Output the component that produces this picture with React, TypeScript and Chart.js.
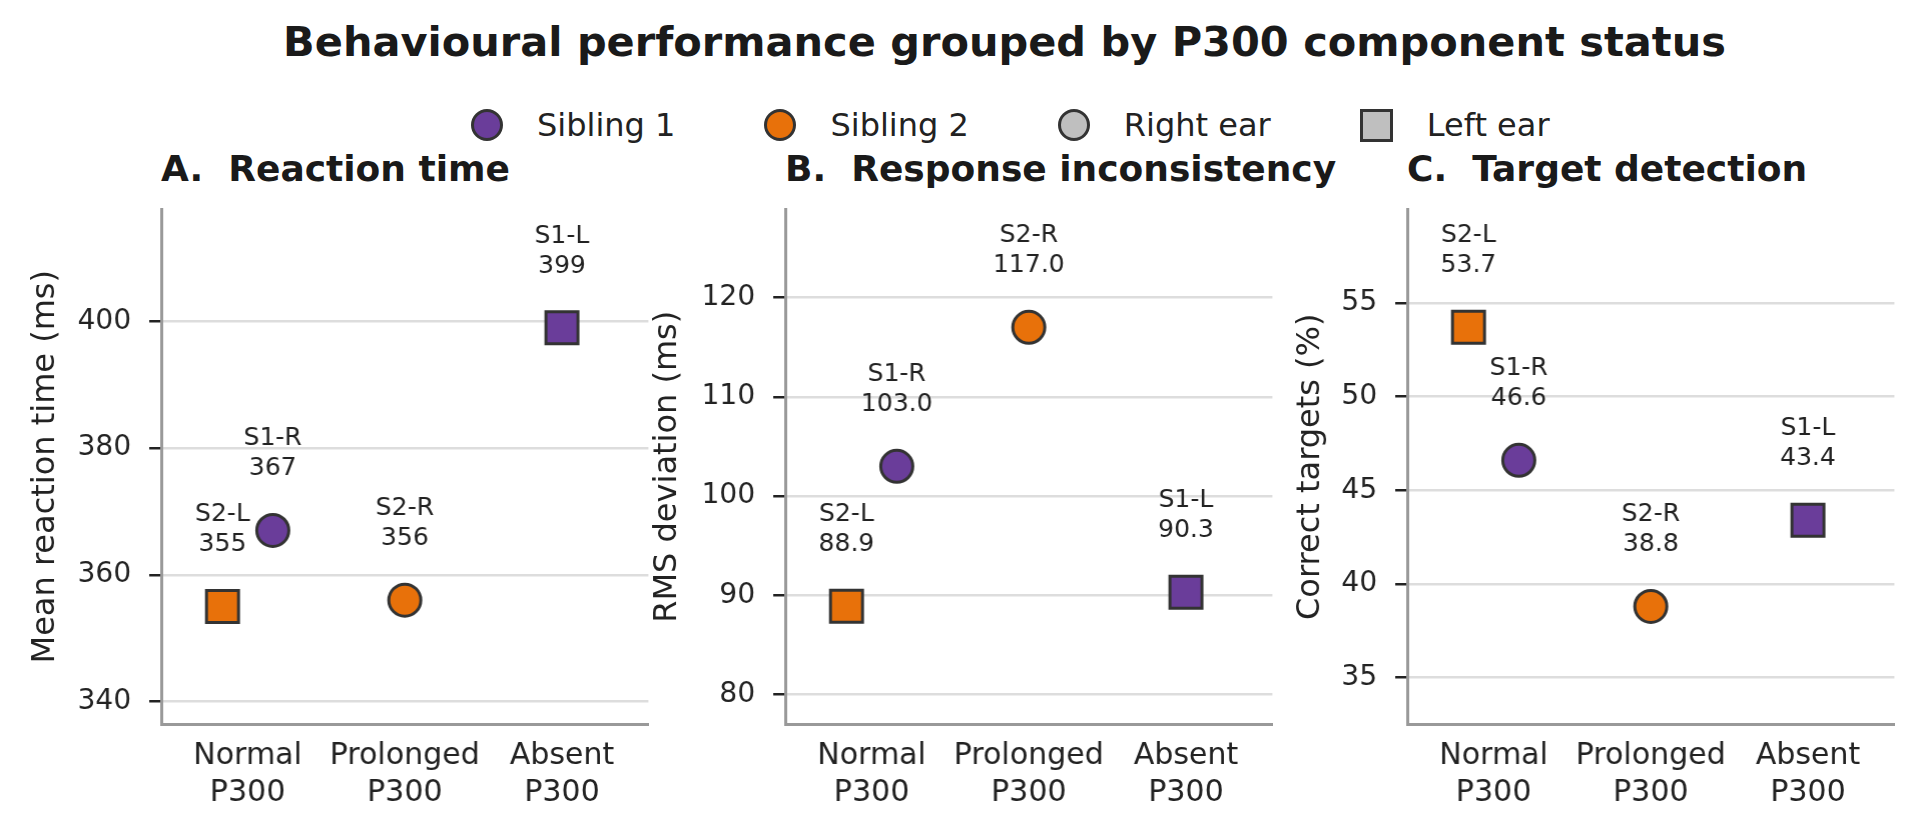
import React, { useEffect, useRef } from 'react';
import { Chart, registerables } from 'chart.js';

Chart.register(...registerables);

const FONT = '"DejaVu Sans", "Liberation Sans", sans-serif';
const INK = '#222222';
const PURPLE = '#6a3d9a';
const ORANGE = '#e8710a';
const NEUTRAL = '#bfbfbf';
const EDGE = '#333333';

// categories on the x axis
const categories = [['Normal', 'P300'], ['Prolonged', 'P300'], ['Absent', 'P300']];

// one entry per measured ear
const pointIds = ['S1-R', 'S2-L', 'S2-R', 'S1-L'];
const pointCategory = [0, 0, 1, 2];
const pointDodge = [0.16, -0.16, 0, 0];
const pointSibling = [1, 2, 2, 1];
const pointEar = ['R', 'L', 'R', 'L'];

// values per panel
const reactionTime = [367, 355, 356, 399];
const rmsDeviation = [103.0, 88.9, 117.0, 90.3];
const correctTargets = [46.6, 53.7, 38.8, 43.4];

const legendLabels = ['Sibling 1', 'Sibling 2', 'Right ear', 'Left ear'];

type Panel = {
  title: string;
  yLabel: string;
  values: number[];
  decimals: number;
  min: number;
  max: number;
  step: number;
  axisLeft: number;
  titlePad: number;
};

const panels: Panel[] = [
  { title: 'A.  Reaction time', yLabel: 'Mean reaction time (ms)', values: reactionTime, decimals: 0, min: 336.45, max: 417.65, step: 20, axisLeft: 161, titlePad: 5.3 },
  { title: 'B.  Response inconsistency', yLabel: 'RMS deviation (ms)', values: rmsDeviation, decimals: 1, min: 77.03, max: 128.87, step: 10, axisLeft: 785, titlePad: 3.7 },
  { title: 'C.  Target detection', yLabel: 'Correct targets (%)', values: correctTargets, decimals: 1, min: 32.53, max: 59.98, step: 5, axisLeft: 1407, titlePad: 24.1 },
];

const Y_BOX = 140;
const AXIS_W = 487;
const CANVAS_TOP = 150;
// chart.js keeps ~20.6px back on the right of the plot area here
const CANVAS_W = Y_BOX + AXIS_W + 5 + 20.6;
const CANVAS_H = 672;

const labelsPlugin = {
  id: 'pointLabels',
  afterDatasetsDraw(chart: any, _args: any, opts: any) {
    const ctx = chart.ctx;
    const meta = chart.getDatasetMeta(0);
    ctx.save();
    ctx.fillStyle = INK;
    ctx.textAlign = 'center';
    ctx.textBaseline = 'middle';
    ctx.font = `25px ${FONT}`;
    meta.data.forEach((el: any, i: number) => {
      ctx.fillText(pointIds[i], el.x, el.y - 91.5);
      ctx.fillText(opts.values[i].toFixed(opts.decimals), el.x, el.y - 61.5);
    });
    ctx.restore();
  },
};

const PanelChart: React.FC<{ panel: Panel }> = ({ panel }) => {
  const canvasRef = useRef<HTMLCanvasElement>(null);

  useEffect(() => {
    if (!canvasRef.current) return;
    const chart = new Chart(canvasRef.current, {
      type: 'scatter',
      data: {
        datasets: [
          {
            data: panel.values.map((v, i) => ({ x: pointCategory[i] + pointDodge[i], y: v })),
            pointStyle: pointEar.map((e) => (e === 'R' ? 'circle' : 'rect')),
            pointRadius: pointEar.map((e) => (e === 'R' ? 16 : 22.6)),
            pointHoverRadius: pointEar.map((e) => (e === 'R' ? 16 : 22.6)),
            pointBackgroundColor: pointSibling.map((s) => (s === 1 ? PURPLE : ORANGE)),
            pointBorderColor: EDGE,
            pointBorderWidth: 3,
            pointHoverBorderWidth: 3,
          } as any,
        ],
      },
      options: {
        animation: false,
        responsive: false,
        maintainAspectRatio: false,
        events: [],
        layout: { padding: { top: 209.5 - CANVAS_TOP, right: 5, left: 0, bottom: 0 } },
        plugins: {
          legend: { display: false },
          tooltip: { enabled: false },
          pointLabels: { values: panel.values, decimals: panel.decimals },
        } as any,
        scales: {
          x: {
            type: 'linear',
            min: -0.55,
            max: 2.55,
            ticks: {
              stepSize: 1,
              includeBounds: false,
              autoSkip: false,
              maxRotation: 0,
              padding: 13,
              color: INK,
              font: { family: FONT, size: 30, lineHeight: 1.25 },
              callback: (v: any) => categories[v as number] ?? '',
            },
            grid: { display: false, drawTicks: false },
            border: { display: true, color: '#999999', width: 3 },
            afterFit: (s: any) => {
              s.height = 98;
            },
          },
          y: {
            min: panel.min,
            max: panel.max,
            ticks: {
              stepSize: panel.step,
              includeBounds: false,
              padding: 18,
              color: INK,
              font: { family: FONT, size: 28 },
            },
            grid: { color: '#dddddd', lineWidth: 2.5, tickColor: INK, tickWidth: 2.5, tickLength: 12 },
            border: { display: true, color: '#999999', width: 3 },
            title: {
              display: true,
              text: panel.yLabel,
              color: INK,
              font: { family: FONT, size: 32, lineHeight: 1.2 },
              padding: { top: panel.titlePad, bottom: 0 },
            },
            afterFit: (s: any) => {
              s.width = Y_BOX;
            },
          },
        },
      },
      plugins: [labelsPlugin],
    });
    return () => chart.destroy();
  }, [panel]);

  return (
    <canvas
      ref={canvasRef}
      width={CANVAS_W}
      height={CANVAS_H}
      style={{ position: 'absolute', left: panel.axisLeft - Y_BOX, top: CANVAS_TOP, width: CANVAS_W, height: CANVAS_H }}
    />
  );
};

const LegendMarker: React.FC<{ index: number }> = ({ index }) => {
  const fill = index === 0 ? PURPLE : index === 1 ? ORANGE : NEUTRAL;
  const square = index === 3;
  const size = square ? 33 : 32;
  return (
    <div
      style={{
        width: size,
        height: size,
        boxSizing: 'border-box',
        border: `3px solid ${EDGE}`,
        borderRadius: square ? 0 : '50%',
        background: fill,
        flex: 'none',
      }}
    />
  );
};

const App: React.FC = () => {
  return (
    <div
      style={{
        position: 'fixed',
        left: 0,
        top: 0,
        width: 1919,
        height: 822,
        background: '#ffffff',
        overflow: 'hidden',
        fontFamily: FONT,
        color: INK,
      }}
    >
      <div
        style={{
          position: 'absolute',
          left: 1004.5,
          top: 20.5,
          transform: 'translateX(-50%)',
          whiteSpace: 'nowrap',
          fontWeight: 'bold',
          fontSize: 41.5,
          lineHeight: '41.5px',
          color: '#1a1a1a',
        }}
      >
        Behavioural performance grouped by P300 component status
      </div>
      <div
        style={{
          position: 'absolute',
          left: 471,
          top: 109,
          height: 32,
          display: 'flex',
          alignItems: 'center',
          gap: 89,
          whiteSpace: 'nowrap',
        }}
      >
        {legendLabels.map((label, i) => (
          <div key={label} style={{ display: 'flex', alignItems: 'center', gap: 34 }}>
            <LegendMarker index={i} />
            <span style={{ fontSize: 32, lineHeight: '32px' }}>{label}</span>
          </div>
        ))}
      </div>
      {panels.map((p) => (
        <div
          key={p.title}
          style={{
            position: 'absolute',
            left: p.axisLeft,
            top: 150.7,
            fontWeight: 'bold',
            fontSize: 36,
            lineHeight: '36px',
            whiteSpace: 'pre',
            color: '#1a1a1a',
          }}
        >
          {p.title}
        </div>
      ))}
      {panels.map((p) => (
        <PanelChart key={p.title} panel={p} />
      ))}
    </div>
  );
};

export default App;
